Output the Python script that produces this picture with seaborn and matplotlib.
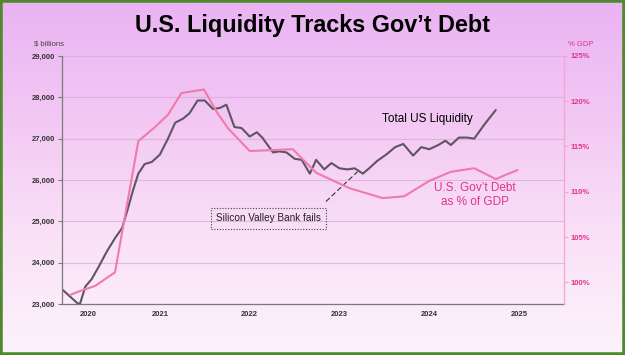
import numpy as np
import pandas as pd
import matplotlib
matplotlib.use("Agg")
import matplotlib.pyplot as plt
import seaborn as sns
from matplotlib.patches import Rectangle
from matplotlib.colors import LinearSegmentedColormap

# ---------------- data ----------------
liq_year = [2020.41, 2020.58, 2020.61, 2020.67, 2020.74, 2020.81, 2020.91, 2021.00,
            2021.08, 2021.14, 2021.20, 2021.26, 2021.33, 2021.41, 2021.50, 2021.59,
            2021.67, 2021.76, 2021.83, 2021.92, 2022.00, 2022.09, 2022.17, 2022.24,
            2022.33, 2022.41, 2022.50, 2022.58, 2022.64, 2022.76, 2022.83, 2022.91,
            2023.00, 2023.08, 2023.17, 2023.24, 2023.33, 2023.41, 2023.50, 2023.59,
            2023.67, 2023.76, 2023.83, 2023.92, 2024.02, 2024.12, 2024.21, 2024.32,
            2024.41, 2024.50, 2024.60, 2024.68, 2024.74, 2024.83, 2024.92, 2025.00,
            2025.11, 2025.24]
liq_value = [23356, 23022, 23000, 23422, 23600, 23867, 24273, 24591,
             24841, 25279, 25744, 26154, 26385, 26436, 26615, 27000,
             27385, 27487, 27615, 27923, 27923, 27718, 27744, 27821,
             27282, 27256, 27051, 27154, 27026, 26667, 26692, 26667,
             26513, 26487, 26154, 26487, 26256, 26410, 26282, 26256,
             26282, 26154, 26282, 26462, 26615, 26795, 26872, 26590,
             26795, 26744, 26846, 26949, 26846, 27026, 27026, 27000,
             27333, 27692]

debt_year = [2020.50, 2020.63, 2020.78, 2021.00, 2021.26, 2021.44, 2021.59, 2021.74,
             2021.99, 2022.14, 2022.26, 2022.50, 2022.98, 2023.24, 2023.61, 2023.98,
             2024.22, 2024.50, 2024.74, 2025.00, 2025.24, 2025.48]
debt_pct = [98.6, 99.1, 99.6, 101.1, 115.6, 117.1, 118.5, 120.9,
            121.3, 118.7, 117.0, 114.5, 114.7, 112.1, 110.4, 109.3,
            109.5, 111.2, 112.2, 112.6, 111.4, 112.4]

left_ticks = [23000, 24000, 25000, 26000, 27000, 28000, 29000]
right_ticks = [100, 105, 110, 115, 120, 125]
year_tick_pos = [2021, 2022, 2023, 2024, 2025, 2026]
year_label_pos = [2020.7, 2021.5, 2022.5, 2023.5, 2024.5, 2025.5]
year_labels = ["2020", "2021", "2022", "2023", "2024", "2025"]

GRAY = "#5f5464"
PINK = "#f07aab"
PINK_TXT = "#e0338c"
AXIS_GRAY = "#7a7a7a"

# ---------------- figure ----------------
sns.set_theme(style="white")
plt.rcParams["font.family"] = ["Liberation Sans", "DejaVu Sans"]

fig = plt.figure(figsize=(6.25, 3.55), dpi=100)

# background gradient
bg = fig.add_axes([0, 0, 1, 1], zorder=-10)
cmap = LinearSegmentedColormap.from_list(
    "bg", [(0.0, "#fdf3fb"), (0.35, "#f9e0f7"), (0.65, "#f3c9f3"), (1.0, "#eab3f3")])
grad = np.linspace(0, 1, 256).reshape(-1, 1)
bg.imshow(grad, aspect="auto", cmap=cmap, origin="lower", extent=[0, 1, 0, 1])
bg.set_axis_off()

ax = fig.add_axes([0.0992, 0.1437, 0.8032, 0.6986])
ax.patch.set_alpha(0)

df_liq = pd.DataFrame({"year": liq_year, "value": liq_value})
df_debt = pd.DataFrame({"year": debt_year, "pct": debt_pct})

sns.lineplot(data=df_liq, x="year", y="value", ax=ax, color=GRAY, linewidth=1.5)
ax.set_xlim(2020.41, 2026.0)
ax.set_ylim(23000, 29000)
ax.set_yticks(left_ticks)
ax.set_yticklabels([f"{v:,}" for v in left_ticks])
ax.yaxis.grid(True, color="#d4aad8", linewidth=0.8, alpha=0.7)
ax.set_axisbelow(True)
ax.set_xlabel("")
ax.set_ylabel("")

ax.set_xticks(year_tick_pos)
ax.set_xticklabels([])
ax.set_xticks(year_label_pos, minor=True)
ax.set_xticklabels(year_labels, minor=True)
ax.tick_params(axis="x", which="major", length=3, width=0.8, color=AXIS_GRAY, direction="inout")
ax.tick_params(axis="x", which="minor", length=0, pad=5, labelsize=5.5, labelcolor="#333333")
ax.tick_params(axis="y", length=3, width=0.8, color=AXIS_GRAY, pad=2, labelsize=5.5,
               labelcolor="#333333")
for lab in ax.get_yticklabels() + ax.get_xticklabels(minor=True):
    lab.set_fontweight("bold")

for s in ["top", "right"]:
    ax.spines[s].set_visible(False)
for s in ["left", "bottom"]:
    ax.spines[s].set_color(AXIS_GRAY)
    ax.spines[s].set_linewidth(0.9)

ax2 = ax.twinx()
sns.lineplot(data=df_debt, x="year", y="pct", ax=ax2, color=PINK, linewidth=1.5)
ax2.set_ylim(97.6, 125)
ax2.set_yticks(right_ticks)
ax2.set_yticklabels([f"{v}%" for v in right_ticks])
ax2.set_ylabel("")
ax2.tick_params(axis="y", length=3, width=0.8, color="#f4a6cc", pad=2, labelsize=5.5,
                labelcolor=PINK_TXT)
for lab in ax2.get_yticklabels():
    lab.set_fontweight("bold")
for s in ["top", "left", "bottom"]:
    ax2.spines[s].set_visible(False)
ax2.spines["right"].set_color("#f4a6cc")
ax2.spines["right"].set_linewidth(0.9)

# axis headers
fig.text(0.054, 0.876, "$ billions", fontsize=5.5, color="#444444", ha="left", va="center")
fig.text(0.908, 0.876, "% GDP", fontsize=5.5, color=PINK_TXT, ha="left", va="center")

# title
fig.text(0.5, 0.927, "U.S. Liquidity Tracks Gov\u2019t Debt", fontsize=16.8,
         fontweight="bold", color="black", ha="center", va="center")

# annotations
ax.text(2024.48, 27476, "Total US Liquidity", fontsize=8.5, color="black",
        ha="center", va="center")
ax.text(2025.01, 25637, "U.S. Gov\u2019t Debt\nas % of GDP", fontsize=8.5, color=PINK_TXT,
        ha="center", va="center", linespacing=1.15)
ax.annotate("", xy=(2023.72, 26240), xytext=(2023.33, 25440),
            arrowprops=dict(arrowstyle="-", linestyle=(0, (4, 3)), color="#333333", lw=0.8))
ax.text(2022.71, 25074, "Silicon Valley Bank fails", fontsize=7.2,
        family=["Liberation Sans Narrow", "Liberation Sans"], color="#222222",
        ha="center", va="center",
        bbox=dict(boxstyle="square,pad=0.55", fc="none", ec="#444444", lw=0.8,
                  linestyle=(0, (1, 1.5))))

# green border
fig.patches.append(Rectangle((0, 0), 1, 1, transform=fig.transFigure, fill=False,
                             edgecolor="#4e8a2c", linewidth=4, zorder=100))

fig.savefig("out.png", dpi=100)
